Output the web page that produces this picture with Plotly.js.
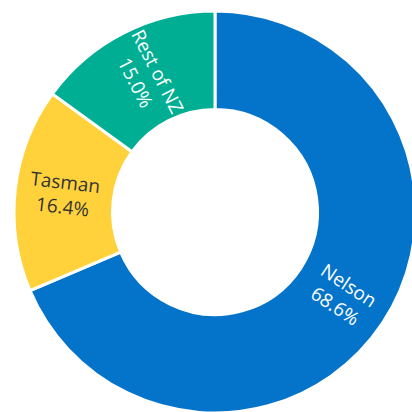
<!DOCTYPE html>
<html>
<head>
<meta charset="utf-8">
<script src="https://cdn.plot.ly/plotly-3.0.1.min.js"></script>
<style>
html,body{margin:0;padding:0;overflow:hidden;background:#fff;width:412px;height:412px;}
#chart{position:absolute;left:0;top:0;width:440px;height:440px;}
</style>
</head>
<body>
<div id="chart"></div>
<script>
const categories = ['Nelson', 'Tasman', 'Rest of NZ'];
const shares = [68.6, 16.4, 15.0];
const sliceColors = ['#0474CA', '#FFD23C', '#00AF93'];
const textColors = ['#ffffff', '#333333', '#ffffff'];

const W = 440, H = 440;
const M = {l: 14, t: 11, r: 24, b: 27};
const HOLE = 0.51;

// label placement derived from the data (cumulative shares -> mid angle)
const total = shares.reduce((a, b) => a + b, 0);
const plotW = W - M.l - M.r, plotH = H - M.t - M.b;
const radiusPx = Math.min(plotW, plotH) / 2;
const midR = radiusPx * (1 + HOLE) / 2;
let cum = 0;
const annotations = shares.map((v, i) => {
  const theta = (cum + v / 2) / total * 360; // clockwise from 12 o'clock
  cum += v;
  const rad = theta * Math.PI / 180;
  let ang = theta - 90;
  while (ang > 90) ang -= 180;
  while (ang <= -90) ang += 180;
  const pct = (v / total * 100).toFixed(1) + '%';
  return {
    xref: 'paper', yref: 'paper',
    x: 0.5 + midR * Math.sin(rad) / plotW,
    y: 0.5 + midR * Math.cos(rad) / plotH,
    xanchor: 'center', yanchor: 'middle',
    text: categories[i] + '<br>' + pct,
    textangle: ang,
    showarrow: false,
    font: {family: '"Open Sans", sans-serif', size: 19, color: textColors[i]}
  };
});

Plotly.newPlot('chart', [{
  type: 'pie',
  labels: categories,
  values: shares,
  sort: false,
  direction: 'clockwise',
  rotation: 0,
  hole: HOLE,
  marker: {colors: sliceColors, line: {color: '#ffffff', width: 3}},
  textinfo: 'none',
  showlegend: false,
  hoverinfo: 'none'
}], {
  width: W,
  height: H,
  margin: M,
  paper_bgcolor: '#ffffff',
  showlegend: false,
  annotations: annotations
}, {displayModeBar: false, staticPlot: true});
</script>
</body>
</html>
